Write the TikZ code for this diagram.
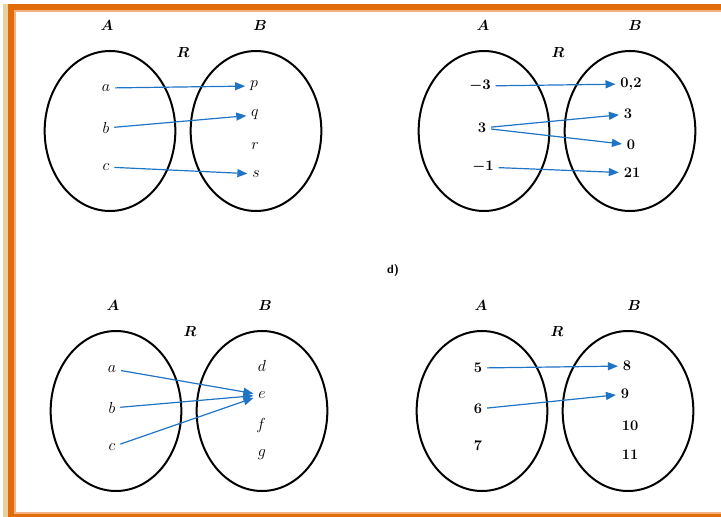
\documentclass[tikz,border=0pt]{standalone}
\usepackage{amsmath}
\usepackage{bm}
\usepackage{tikz}
\usetikzlibrary{arrows.meta,shapes.geometric}
\definecolor{frameorange}{HTML}{E36C0A}
\definecolor{framelight}{HTML}{F4B183}
\definecolor{framebeige}{HTML}{E6D2A0}
\definecolor{mapblue}{HTML}{1F74C6}
\tikzset{
  setoval/.style={
    draw=black,
    line width=1.5pt,
    ellipse,
    inner sep=0pt,
    minimum width=98pt,
    minimum height=120pt
  },
  setname/.style={
    font=\fontsize{11}{13}\selectfont\boldmath
  },
  elem/.style={
    font=\fontsize{12}{14}\selectfont,
    inner sep=3.5pt
  },
  numelem/.style={
    font=\fontsize{11}{13}\selectfont\bfseries\boldmath,
    inner sep=3.5pt
  },
  maparrow/.style={
    -{Triangle[length=7.5pt,width=6pt]},
    line width=0.9pt,
    draw=mapblue
  }
}

\begin{document}
\begin{tikzpicture}[x=0.75pt,y=-0.75pt]
  \useasboundingbox (0,0) rectangle (721,517);

  % page frame
  \fill[framebeige] (3,4) rectangle (8,517);
  \fill[frameorange] (8,4) rectangle (721,10);
  \fill[frameorange] (8,4) rectangle (14,517);
  \fill[framelight] (14,10) rectangle (721,12);
  \fill[framelight] (14,10) rectangle (16,517);
  \fill[frameorange] (14,514) rectangle (721,517);
  \fill[framelight] (16,512) rectangle (721,514);

  % first relation
  \node[setoval] (setA1) at (110,131) {};
  \node[setoval] (setB1) at (256,131) {};
  \node[setname] (nA1) at (107,25) {$A$};
  \node[setname] (nB1) at (260,25) {$B$};
  \node[setname] (nR1) at (183,52) {$R$};
  \node[elem] (a1) at (106,88) {$a$};
  \node[elem] (b1) at (106,128) {$b$};
  \node[elem] (c1) at (106,167) {$c$};
  \node[elem] (p1) at (254,86) {$p$};
  \node[elem] (q1) at (255,115) {$q$};
  \node[elem] (r1) at (255,146) {$r$};
  \node[elem] (s1) at (256,174) {$s$};
  \draw[maparrow] (a1) -- (p1);
  \draw[maparrow] (b1) -- (q1);
  \draw[maparrow] (c1) -- (s1);

  % second relation
  \node[setoval] (setA2) at (484,131) {};
  \node[setoval] (setB2) at (630,131) {};
  \node[setname] (nA2) at (483,25) {$A$};
  \node[setname] (nB2) at (635,25) {$B$};
  \node[setname] (nR2) at (558,52) {$R$};
  \node[numelem] (m3) at (480,86) {$-3$};
  \node[numelem] (p3) at (482,128) {3};
  \node[numelem] (m1) at (483,167) {$-1$};
  \node[numelem] (d02) at (631,84) {0,2};
  \node[numelem] (t3) at (628,114) {3};
  \node[numelem] (z0) at (631,145) {0};
  \node[numelem] (t21) at (632,173) {21};
  \draw[maparrow] (m3) -- (d02);
  \draw[maparrow] (p3) -- (t3);
  \draw[maparrow] (p3) -- (z0);
  \draw[maparrow] (m1) -- (t21);

  \node[font=\sffamily\bfseries\fontsize{9}{11}\selectfont] (partd) at (393,270) {d)};

  % third relation
  \node[setoval] (setA3) at (116,411) {};
  \node[setoval] (setB3) at (262,411) {};
  \node[setname] (nA3) at (113,305) {$A$};
  \node[setname] (nB3) at (265,305) {$B$};
  \node[setname] (nR3) at (190,331) {$R$};
  \node[elem] (a3) at (112,369) {$a$};
  \node[elem] (b3) at (112,408) {$b$};
  \node[elem] (c3) at (112,447) {$c$};
  \node[elem] (d3) at (262,366) {$d$};
  \node[elem] (e3) at (262,395) {$e$};
  \node[elem] (f3) at (261,425) {$f$};
  \node[elem] (g3) at (262,455) {$g$};
  \draw[maparrow] (a3) -- (e3);
  \draw[maparrow] (b3) -- (e3);
  \draw[maparrow] (c3) -- (e3);

  % fourth relation
  \node[setoval] (setA4) at (482,411) {};
  \node[setoval] (setB4) at (628,411) {};
  \node[setname] (nA4) at (481,305) {$A$};
  \node[setname] (nB4) at (634,305) {$B$};
  \node[setname] (nR4) at (557,331) {$R$};
  \node[numelem] (f5) at (478,368) {5};
  \node[numelem] (s6) at (478,409) {6};
  \node[numelem] (s7) at (478,446) {7};
  \node[numelem] (e8) at (627,366) {8};
  \node[numelem] (n9) at (625,394) {9};
  \node[numelem] (t10) at (630,426) {10};
  \node[numelem] (e11) at (630,455) {11};
  \draw[maparrow] (f5) -- (e8);
  \draw[maparrow] (s6) -- (n9);
\end{tikzpicture}
\end{document}
